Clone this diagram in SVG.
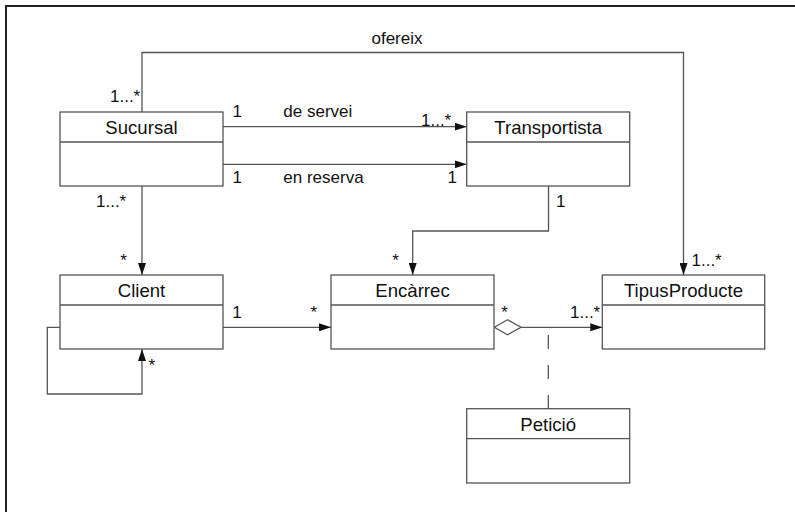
<svg xmlns="http://www.w3.org/2000/svg" width="795" height="512" viewBox="0 0 795 512">
<defs>
<style>
.box{fill:#fff;stroke:#555;stroke-width:1.3}
.div{stroke:#555;stroke-width:1.3}
.ln{fill:none;stroke:#555;stroke-width:1.3}
.cn{font-family:"Liberation Sans",Arial,sans-serif;font-size:18.6px;fill:#111;text-anchor:middle}
.lb{font-family:"Liberation Sans",Arial,sans-serif;font-size:17px;fill:#111}
</style>
<marker id="arr" markerWidth="12" markerHeight="8" refX="12" refY="4" orient="auto" markerUnits="userSpaceOnUse">
<path d="M0,0 L12,4 L0,8 Z" fill="#111"/>
</marker>
</defs>
<rect x="0" y="0" width="795" height="512" fill="#fff"/>
<path d="M6,512 L6,6 L795,6" fill="none" stroke="#222" stroke-width="2"/>

<g id="connectors">
<path class="ln" d="M142,112 L142,52.5 L683.5,52.5 L683.5,275" marker-end="url(#arr)"/>
<path class="ln" d="M223,126.7 L466.7,126.7" marker-end="url(#arr)"/>
<path class="ln" d="M223,164.3 L466.7,164.3" marker-end="url(#arr)"/>
<path class="ln" d="M142,186 L142,275" marker-end="url(#arr)"/>
<path class="ln" d="M548.5,186 L548.5,231 L412.7,231 L412.7,275" marker-end="url(#arr)"/>
<path class="ln" d="M223,327.3 L331,327.3" marker-end="url(#arr)"/>
<path class="ln" d="M60,327.3 L47.3,327.3 L47.3,394 L142,394 L142,349" marker-end="url(#arr)"/>
<path class="ln" d="M521,327.3 L602.3,327.3" marker-end="url(#arr)"/>
<path d="M494.3,327.3 L507.6,319.8 L521,327.3 L507.6,334.8 Z" fill="#fff" stroke="#555" stroke-width="1.3"/>
<path class="ln" d="M548.3,335 L548.3,408.7" stroke-dasharray="14,16"/>
<text class="lb" x="397" y="44" text-anchor="middle">ofereix</text>
<text class="lb" x="110" y="102.3">1...*</text>
<text class="lb" x="232.5" y="117.3">1</text>
<text class="lb" x="283.3" y="117.3">de servei</text>
<text class="lb" x="421" y="126">1...*</text>
<text class="lb" x="232.5" y="183.3">1</text>
<text class="lb" x="283.3" y="183.3">en reserva</text>
<text class="lb" x="447.5" y="183.3">1</text>
<text class="lb" x="96" y="206.7">1...*</text>
<text class="lb" x="120.3" y="266">*</text>
<text class="lb" x="556" y="207.3">1</text>
<text class="lb" x="392.3" y="266">*</text>
<text class="lb" x="691.5" y="266">1...*</text>
<text class="lb" x="232.3" y="318.3">1</text>
<text class="lb" x="310.6" y="317.5">*</text>
<text class="lb" x="501.3" y="318.3">*</text>
<text class="lb" x="570" y="318.3">1...*</text>
<text class="lb" x="148.6" y="370.5">*</text>
</g>

<g id="sucursal">
<rect class="box" x="60" y="112" width="163" height="74"/>
<line class="div" x1="60" y1="142" x2="223" y2="142"/>
<text class="cn" x="141.5" y="134">Sucursal</text>
</g>
<g id="transportista">
<rect class="box" x="466.7" y="112" width="163" height="74"/>
<line class="div" x1="466.7" y1="142" x2="629.7" y2="142"/>
<text class="cn" x="548.2" y="134">Transportista</text>
</g>
<g id="client">
<rect class="box" x="60" y="275" width="163" height="74"/>
<line class="div" x1="60" y1="305" x2="223" y2="305"/>
<text class="cn" x="141.5" y="297">Client</text>
</g>
<g id="encarrec">
<rect class="box" x="331" y="275" width="163" height="74"/>
<line class="div" x1="331" y1="305" x2="494" y2="305"/>
<text class="cn" x="412.5" y="297">Encàrrec</text>
</g>
<g id="tipusproducte">
<rect class="box" x="602.3" y="275" width="162.4" height="74"/>
<line class="div" x1="602.3" y1="305" x2="764.7" y2="305"/>
<text class="cn" x="683.5" y="297">TipusProducte</text>
</g>
<g id="peticio">
<rect class="box" x="466.7" y="408.7" width="163" height="74.3"/>
<line class="div" x1="466.7" y1="438.7" x2="629.7" y2="438.7"/>
<text class="cn" x="548.2" y="430.5">Petició</text>
</g>
</svg>
